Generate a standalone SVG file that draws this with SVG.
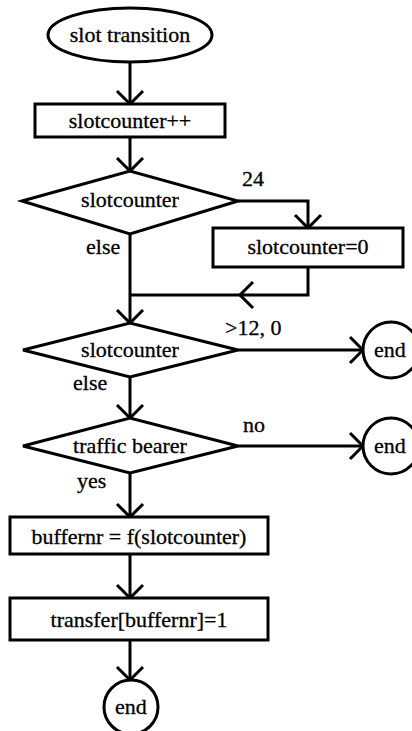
<svg xmlns="http://www.w3.org/2000/svg" width="412" height="731" viewBox="0 0 412 731">
<style>
.s{fill:#fff;stroke:#000;stroke-width:3}
.c{fill:none;stroke:#000;stroke-width:3}
text{font-family:"Liberation Serif","Times New Roman",serif;font-size:22px;fill:#000;stroke:#000;stroke-width:0.3}
.m{text-anchor:middle}
</style>
<defs>
<marker id="v" viewBox="-15 -15 17 30" markerWidth="17" markerHeight="30" refX="0" refY="0" markerUnits="userSpaceOnUse" orient="auto">
<path d="M-13,-13 L0,0 L-13,13" fill="none" stroke="#000" stroke-width="3"/>
</marker>
</defs>
<rect width="412" height="731" fill="#fff"/>
<g id="connectors">
<line class="c" x1="130" y1="62" x2="130" y2="104" marker-end="url(#v)"/>
<line class="c" x1="130" y1="137" x2="130" y2="171" marker-end="url(#v)"/>
<polyline class="c" points="238,201 308,201 308,228" marker-end="url(#v)"/>
<polyline class="c" points="308,267 308,295 130,295"/>
<polyline class="c" points="253,282 240,295 253,308"/>
<line class="c" x1="130" y1="234" x2="130" y2="323" marker-end="url(#v)"/>
<line class="c" x1="238" y1="350" x2="363" y2="350" marker-end="url(#v)"/>
<line class="c" x1="130" y1="377" x2="130" y2="418" marker-end="url(#v)"/>
<line class="c" x1="238" y1="446" x2="363" y2="446" marker-end="url(#v)"/>
<line class="c" x1="130" y1="473" x2="130" y2="517" marker-end="url(#v)"/>
<line class="c" x1="130" y1="554" x2="130" y2="598" marker-end="url(#v)"/>
<line class="c" x1="130" y1="640" x2="130" y2="680" marker-end="url(#v)"/>
<text x="242" y="186">24</text>
<text x="86" y="254">else</text>
<text x="225" y="335">&gt;12, 0</text>
<text x="73" y="390">else</text>
<text x="243" y="432">no</text>
<text x="77" y="488">yes</text>
</g>
<g id="start"><ellipse class="s" cx="130" cy="35" rx="82" ry="27"/><text class="m" x="130" y="42">slot transition</text></g>
<g id="inc"><rect class="s" x="35" y="104" width="190" height="33"/><text class="m" x="130" y="128">slotcounter++</text></g>
<g id="dec1"><polygon class="s" points="22,201 130,171 238,201 130,234"/><text class="m" x="130" y="207">slotcounter</text></g>
<g id="reset"><rect class="s" x="213" y="228" width="190" height="39"/><text class="m" x="308" y="254">slotcounter=0</text></g>
<g id="dec2"><polygon class="s" points="23,350 130,323 238,350 130,377"/><text class="m" x="130" y="357">slotcounter</text></g>
<g id="end1"><circle class="s" cx="391" cy="350" r="28"/><text class="m" x="390" y="357">end</text></g>
<g id="dec3"><polygon class="s" points="23,446 130,418 238,446 130,473"/><text class="m" x="130" y="453">traffic bearer</text></g>
<g id="end2"><circle class="s" cx="391" cy="446" r="28"/><text class="m" x="390" y="453">end</text></g>
<g id="buf"><rect class="s" x="10" y="517" width="258" height="37"/><text class="m" x="139" y="544">buffernr = f(slotcounter)</text></g>
<g id="xfer"><rect class="s" x="10" y="598" width="258" height="42"/><text class="m" x="139" y="627">transfer[buffernr]=1</text></g>
<g id="end3"><circle class="s" cx="131" cy="707" r="27"/><text class="m" x="131" y="714">end</text></g>
</svg>
